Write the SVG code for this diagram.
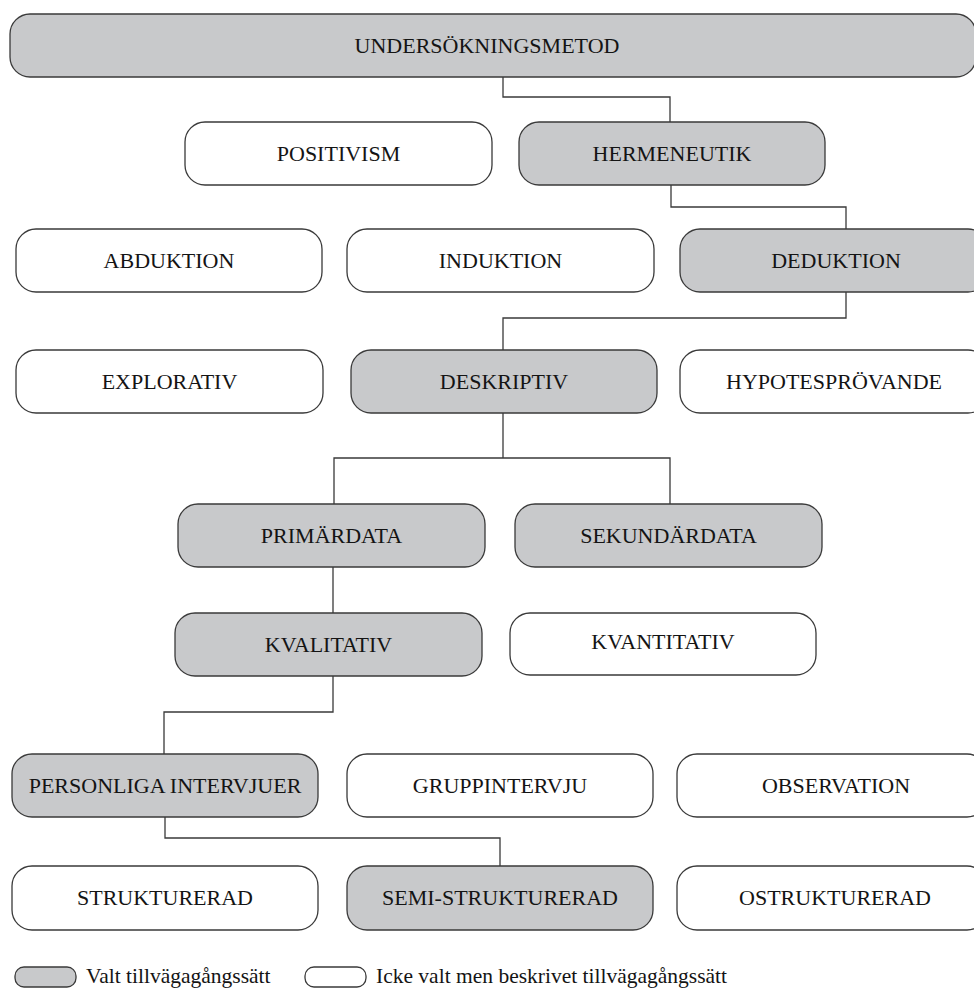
<svg xmlns="http://www.w3.org/2000/svg" width="974" height="988" viewBox="0 0 974 988">
  <style>
    .box { stroke: #3a3a3a; stroke-width: 1.3; }
    .sel { fill: #c8c9cb; }
    .off { fill: #ffffff; }
    .lbl { font-family: "Liberation Serif", "Times New Roman", serif; font-size: 22px; fill: #141414; text-anchor: middle; }
    .leg { font-family: "Liberation Serif", "Times New Roman", serif; font-size: 21.5px; fill: #141414; }
    .wire { fill: none; stroke: #3a3a3a; stroke-width: 1.3; }
  </style>
  <rect width="974" height="988" fill="#ffffff"/>

  <!-- connectors -->
  <g id="connectors" class="wire">
    <polyline points="503,77 503,97 670,97 670,122"/>
    <polyline points="671,185 671,207 846,207 846,229"/>
    <polyline points="846,292 846,318 503,318 503,350"/>
    <polyline points="503,413 503,458"/>
    <polyline points="334,504 334,458 670,458 670,504"/>
    <polyline points="333,567 333,613"/>
    <polyline points="333,676 333,712 164,712 164,754"/>
    <polyline points="165,817 165,838 500,838 500,866"/>
  </g>

  <!-- row 1 -->
  <g id="undersokningsmetod">
    <rect class="box sel" x="10" y="14" width="966" height="63" rx="20"/>
    <text class="lbl" x="487" y="53">UNDERSÖKNINGSMETOD</text>
  </g>

  <!-- row 2 -->
  <g id="positivism">
    <rect class="box off" x="185" y="122" width="307" height="63" rx="20"/>
    <text class="lbl" x="338.5" y="161">POSITIVISM</text>
  </g>
  <g id="hermeneutik">
    <rect class="box sel" x="519" y="122" width="306" height="63" rx="20"/>
    <text class="lbl" x="672" y="161">HERMENEUTIK</text>
  </g>

  <!-- row 3 -->
  <g id="abduktion">
    <rect class="box off" x="16" y="229" width="306" height="63" rx="20"/>
    <text class="lbl" x="169" y="268">ABDUKTION</text>
  </g>
  <g id="induktion">
    <rect class="box off" x="347" y="229" width="307" height="63" rx="20"/>
    <text class="lbl" x="500.5" y="268">INDUKTION</text>
  </g>
  <g id="deduktion">
    <rect class="box sel" x="680" y="229" width="308" height="63" rx="20"/>
    <text class="lbl" x="836" y="268">DEDUKTION</text>
  </g>

  <!-- row 4 -->
  <g id="explorativ">
    <rect class="box off" x="16" y="350" width="307" height="63" rx="20"/>
    <text class="lbl" x="169.5" y="389">EXPLORATIV</text>
  </g>
  <g id="deskriptiv">
    <rect class="box sel" x="351" y="350" width="306" height="63" rx="20"/>
    <text class="lbl" x="504" y="389">DESKRIPTIV</text>
  </g>
  <g id="hypotesprovande">
    <rect class="box off" x="680" y="350" width="308" height="63" rx="20"/>
    <text class="lbl" x="834" y="389">HYPOTESPRÖVANDE</text>
  </g>

  <!-- row 5 -->
  <g id="primardata">
    <rect class="box sel" x="178" y="504" width="307" height="63" rx="20"/>
    <text class="lbl" x="331.5" y="543">PRIMÄRDATA</text>
  </g>
  <g id="sekundardata">
    <rect class="box sel" x="515" y="504" width="307" height="63" rx="20"/>
    <text class="lbl" x="668.5" y="543">SEKUNDÄRDATA</text>
  </g>

  <!-- row 6 -->
  <g id="kvalitativ">
    <rect class="box sel" x="175" y="613" width="307" height="63" rx="20"/>
    <text class="lbl" x="328.5" y="652">KVALITATIV</text>
  </g>
  <g id="kvantitativ">
    <rect class="box off" x="510" y="613" width="306" height="62" rx="20"/>
    <text class="lbl" x="663" y="649">KVANTITATIV</text>
  </g>

  <!-- row 7 -->
  <g id="personliga-intervjuer">
    <rect class="box sel" x="12" y="754" width="306" height="63" rx="20"/>
    <text class="lbl" x="165" y="793">PERSONLIGA INTERVJUER</text>
  </g>
  <g id="gruppintervju">
    <rect class="box off" x="347" y="754" width="306" height="63" rx="20"/>
    <text class="lbl" x="500" y="793">GRUPPINTERVJU</text>
  </g>
  <g id="observation">
    <rect class="box off" x="677" y="754" width="310" height="63" rx="20"/>
    <text class="lbl" x="836" y="793">OBSERVATION</text>
  </g>

  <!-- row 8 -->
  <g id="strukturerad">
    <rect class="box off" x="12" y="866" width="306" height="64" rx="20"/>
    <text class="lbl" x="165" y="905">STRUKTURERAD</text>
  </g>
  <g id="semi-strukturerad">
    <rect class="box sel" x="347" y="866" width="306" height="64" rx="20"/>
    <text class="lbl" x="500" y="905">SEMI-STRUKTURERAD</text>
  </g>
  <g id="ostrukturerad">
    <rect class="box off" x="677" y="866" width="310" height="64" rx="20"/>
    <text class="lbl" x="835" y="905">OSTRUKTURERAD</text>
  </g>

  <!-- legend -->
  <g id="legend">
    <rect class="box sel" x="15" y="967" width="61" height="20" rx="9"/>
    <text class="leg" x="86" y="983">Valt tillvägagångssätt</text>
    <rect class="box off" x="305" y="967" width="61" height="20" rx="9"/>
    <text class="leg" x="376" y="983">Icke valt men beskrivet tillvägagångssätt</text>
  </g>
</svg>
